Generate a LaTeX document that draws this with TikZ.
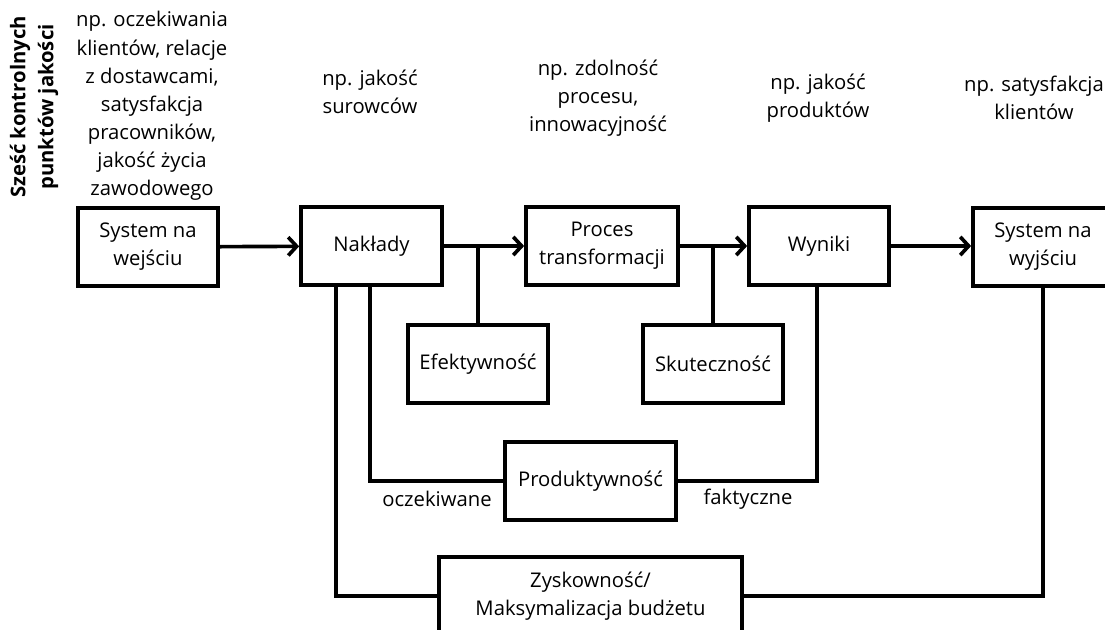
\documentclass[tikz,border=0pt]{standalone}
\usepackage{fontspec}
\setmainfont{Open Sans}
\usepackage{tikz}
\usetikzlibrary{%
  arrows,%
  arrows.meta,% wg. Straight Barb
  positioning,% wg. " of "
  calc%
}

\begin{document}
\begin{tikzpicture}[
    x=0.025cm, y=-0.025cm,
    font=\fontsize{14.4}{20}\selectfont,
    block/.style={rectangle, draw, line width=2.6pt, minimum height=1.95cm, align=center, inner sep=2pt},
    note/.style={align=center},
    link/.style={line width=2.6pt},
    tip/.style={-{Straight Barb[length=6pt,width=13pt]}, line width=2.6pt}
  ]
  \useasboundingbox (0,0) rectangle (1105,630);
  \clip (0,0) rectangle (1105,630);

  % draw top row
  \node[block, minimum width=3.5cm] at (148,247) (we) {System na\\wejściu};
  \node[block, minimum width=3.525cm] at (371.5,246) (naklady) {Nakłady};
  \node[block, minimum width=3.8cm] at (602,246) (proces) {Proces\\transformacji};
  \node[block, minimum width=3.5cm] at (819,246) (wyniki) {Wyniki};
  \node[block, minimum width=3.5cm] at (1043,247) (wy) {System na\\wyjściu};

  % draw measures
  \node[block, minimum width=3.5cm] at (478,364) (efekt) {Efektywność};
  \node[block, minimum width=3.5cm] at (713,364) (skut) {Skuteczność};
  \node[block, minimum width=4.275cm] at (590.5,481) (produkt) {Produktywność};
  \node[block, minimum width=7.575cm] at (590.5,596) (zysk) {Zyskowność/\\Maksymalizacja budżetu};

  % draw notes
  \node[font=\fontsize{14.4}{20}\bfseries, rotate=90, align=center] at (34,107) (tytul) {Sześć kontrolnych\\punktów jakości};
  \node[note] at (152,106) (n1) {np. oczekiwania\\klientów, relacje\\z dostawcami,\\satysfakcja\\pracowników,\\jakość życia\\zawodowego};
  \node[note] at (370,92) (n2) {np. jakość\\surowców};
  \node[note] at (598,98) (n3) {np. zdolność\\procesu,\\innowacyjność};
  \node[note] at (818,98) (n4) {np. jakość\\produktów};
  \node[note] at (1034,98) (n5) {np. satysfakcja\\klientów};
  \node[note] at (437,499) (oczek) {oczekiwane};
  \node[note] at (748,499) (fakt) {faktyczne};

  % draw connections
  \draw[tip] (we) -- (naklady);
  \draw[tip] (naklady) -- (proces);
  \draw[tip] (proces) -- (wyniki);
  \draw[tip] (wyniki.east) -- (wy.west |- wyniki.east);
  \draw[link] (efekt.north) -- (efekt.north |- naklady.east);
  \draw[link] (skut.north) -- (skut.north |- proces.east);
  \draw[link] ([xshift=-0.04cm]naklady.south) |- (produkt.west);
  \draw[link] ([xshift=-0.05cm]wyniki.south) |- (produkt.east);
  \draw[link] ([xshift=-0.89cm]naklady.south) |- (zysk.west);
  \draw[link] (wy.south) |- (zysk.east);
\end{tikzpicture}
\end{document}
